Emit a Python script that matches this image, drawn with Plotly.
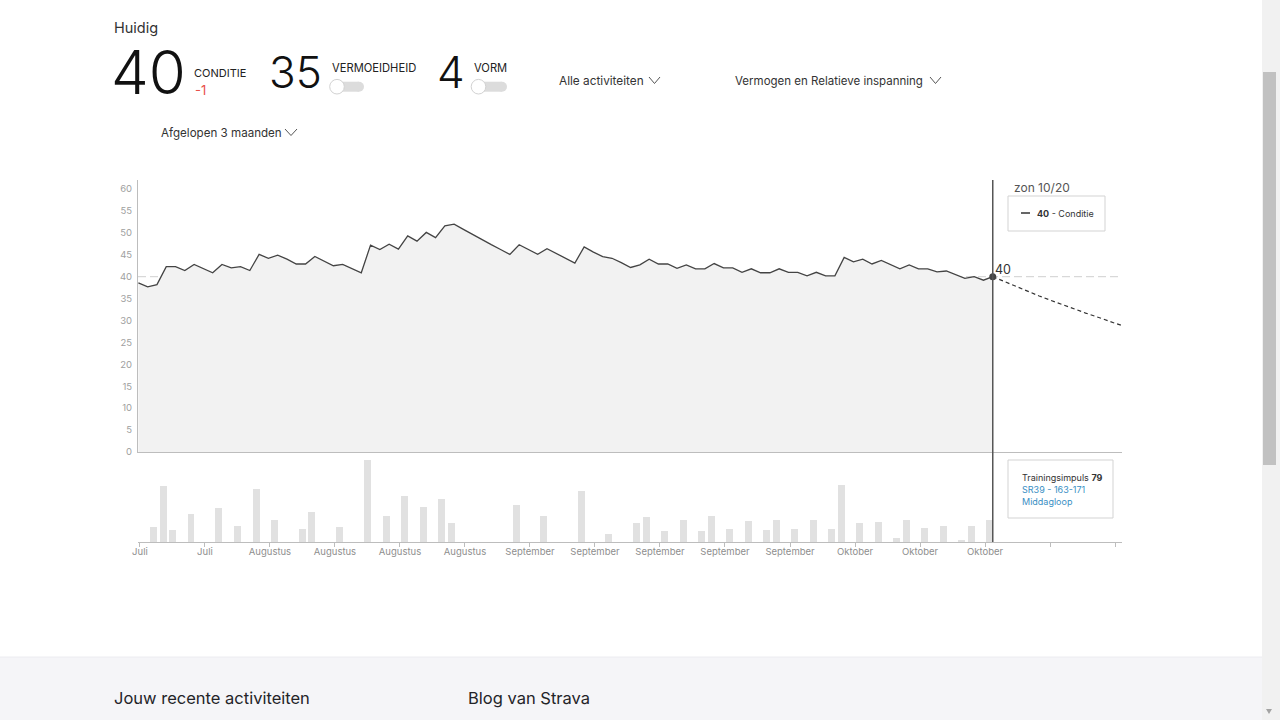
import plotly.graph_objects as go
import pandas as pd

W, H = 1280, 720

# ---------------- data ----------------
conditie = [38.6, 37.7, 38.2, 42.3, 42.3, 41.4, 42.8, 41.9, 40.9, 42.8,
            42.0, 42.3, 41.4, 45.1, 44.2, 44.9, 44.0, 42.9, 42.9, 44.6,
            43.6, 42.5, 42.8, 41.9, 40.9, 47.2, 46.2, 47.4, 46.3, 49.3,
            48.1, 50.1, 48.9, 51.6, 52.0, 50.8, 49.6, 48.5, 47.3, 46.2,
            45.1, 47.3, 46.2, 45.1, 46.4, 45.3, 44.2, 43.1, 46.8, 45.6,
            44.6, 44.2, 43.2, 42.1, 42.7, 44.0, 42.9, 42.9, 41.9, 42.7,
            41.8, 41.8, 43.0, 42.0, 42.0, 41.0, 41.8, 40.9, 40.9, 41.8,
            41.0, 41.0, 40.2, 41.0, 40.2, 40.2, 44.4, 43.4, 44.0, 42.9,
            43.7, 42.7, 41.8, 42.7, 41.8, 41.8, 41.1, 41.3, 40.5, 39.6,
            40.0, 39.2, 40.0]
conditie_dates = pd.date_range("2019-07-20 20:00", periods=len(conditie), freq="D")

projectie = [40.0, 39.1, 38.2, 37.3, 36.4, 35.6, 34.8, 34.0, 33.2, 32.4,
             31.7, 31.0, 30.2, 29.5, 28.8]
projectie_dates = pd.date_range("2019-10-20 20:00", periods=len(projectie), freq="D")

impuls_dates = ["2019-07-22", "2019-07-23", "2019-07-24", "2019-07-26", "2019-07-29",
                "2019-07-31", "2019-08-02", "2019-08-04", "2019-08-07", "2019-08-08",
                "2019-08-11", "2019-08-14", "2019-08-16", "2019-08-18", "2019-08-20",
                "2019-08-22", "2019-08-23", "2019-08-30", "2019-09-02", "2019-09-06",
                "2019-09-09", "2019-09-12", "2019-09-13", "2019-09-15", "2019-09-17",
                "2019-09-19", "2019-09-20", "2019-09-22", "2019-09-24", "2019-09-26",
                "2019-09-27", "2019-09-29", "2019-10-01", "2019-10-03", "2019-10-04",
                "2019-10-06", "2019-10-08", "2019-10-10", "2019-10-11", "2019-10-13",
                "2019-10-15", "2019-10-17", "2019-10-18", "2019-10-20"]
impuls = [55, 207, 44, 104, 124, 58, 196, 81, 47, 110,
          54, 300, 95, 168, 127, 158, 70, 136, 95, 188,
          30, 70, 91, 41, 79, 41, 94, 48, 77, 44,
          79, 48, 81, 48, 209, 70, 74, 13, 79, 51,
          57, 8, 57, 79]
impuls_x = [pd.Timestamp(d) + pd.Timedelta(hours=12) for d in impuls_dates]

tick_dates = ["2019-07-21", "2019-07-28", "2019-08-04", "2019-08-11", "2019-08-18",
              "2019-08-25", "2019-09-01", "2019-09-08", "2019-09-15", "2019-09-22",
              "2019-09-29", "2019-10-06", "2019-10-13", "2019-10-20", "2019-10-27",
              "2019-11-03"]
tick_labels = ["Juli", "Juli", "Augustus", "Augustus", "Augustus", "Augustus",
               "September", "September", "September", "September", "September",
               "Oktober", "Oktober", "Oktober", "", ""]
y_ticks = list(range(0, 65, 5))

CURRENT = 40
x_range = ["2019-07-20 19:00", "2019-11-03 18:00"]

FONT = "Inter"


def px(x):
    return x / W


def py(y):
    return 1 - y / H


fig = go.Figure()

fig.add_trace(go.Scatter(
    x=conditie_dates, y=conditie, mode="lines", fill="tozeroy",
    fillcolor="#f2f2f2", line=dict(color="#444444", width=1.3),
    xaxis="x", yaxis="y", hoverinfo="skip"))
fig.add_trace(go.Scatter(
    x=projectie_dates, y=projectie, mode="lines",
    line=dict(color="#333333", width=1.2, dash="4px,3px"),
    xaxis="x", yaxis="y", hoverinfo="skip"))
fig.add_trace(go.Scatter(
    x=[conditie_dates[-1]], y=[conditie[-1]], mode="markers",
    marker=dict(color="#444444", size=7),
    xaxis="x", yaxis="y", hoverinfo="skip"))
fig.add_trace(go.Bar(
    x=impuls_x, y=impuls, marker=dict(color="#e1e1e1", line=dict(width=0)),
    width=0.75 * 86400000, xaxis="x2", yaxis="y2", hoverinfo="skip"))

axis_col = "#bdbdbd"
fig.update_layout(
    width=W, height=H, margin=dict(l=0, r=0, t=0, b=0, autoexpand=False),
    paper_bgcolor="white", plot_bgcolor="rgba(0,0,0,0)",
    showlegend=False, hovermode=False, bargap=0,
    font=dict(family=FONT, color="#333333"),
    xaxis=dict(domain=[px(138), px(1122)], range=x_range, type="date",
               anchor="y", showticklabels=False, ticks="", showgrid=False,
               automargin=False,
               zeroline=False, showline=True, linecolor=axis_col, linewidth=1),
    yaxis=dict(domain=[py(452), py(180)], range=[0, 62.06], anchor="x",
               tickvals=y_ticks, ticks="outside", ticklen=3,
               tickcolor="rgba(0,0,0,0)", automargin=False,
               tickfont=dict(size=9.5, color="#a0a0a0", family=FONT),
               showgrid=False, zeroline=False, showline=True,
               linecolor=axis_col, linewidth=1),
    xaxis2=dict(domain=[px(138), px(1122)], range=x_range, type="date",
                anchor="y2", matches="x", tickvals=tick_dates, ticktext=tick_labels,
                ticks="outside", ticklen=4, tickcolor=axis_col, automargin=False,
                ticklabelstandoff=-3,
                tickfont=dict(size=9.5, color="#8e8e8e", family=FONT),
                showgrid=False, zeroline=False, showline=True,
                linecolor=axis_col, linewidth=1),
    yaxis2=dict(domain=[py(542), py(452)], range=[0, 330], anchor="x2",
                visible=False, showgrid=False, zeroline=False, automargin=False),
)

shapes = []
annotations = []


def text(x, y, s, size, color="#333333", weight=None, anchor="left"):
    f = dict(size=size, color=color, family=FONT)
    if weight:
        f["weight"] = weight
    annotations.append(dict(x=px(x), y=py(y), xref="paper", yref="paper",
                            text=s, showarrow=False, xanchor=anchor,
                            yanchor="middle", font=f))


def rect(x0, y0, x1, y1, fill, line="rgba(0,0,0,0)", lw=1):
    shapes.append(dict(type="rect", xref="paper", yref="paper",
                       x0=px(x0), x1=px(x1), y0=py(y1), y1=py(y0),
                       fillcolor=fill, line=dict(color=line, width=lw)))


def chevron(x0, y0, x1, y1, color="#555555"):
    xm = (x0 + x1) / 2
    path = f"M {px(x0)},{py(y0)} L {px(xm)},{py(y1)} L {px(x1)},{py(y0)}"
    shapes.append(dict(type="path", xref="paper", yref="paper", path=path,
                       line=dict(color=color, width=1)))


def circle(cx, cy, r, fill, line="rgba(0,0,0,0)", lw=0):
    shapes.append(dict(type="circle", xref="paper", yref="paper",
                       x0=px(cx - r), x1=px(cx + r), y0=py(cy + r), y1=py(cy - r),
                       fillcolor=fill, line=dict(color=line, width=lw)))


def toggle(knob_cx, pill_right, yc):
    r = 5
    left = knob_cx - 3
    rect(left + r, yc - r, pill_right - r, yc + r, "#dcdcdc")
    circle(pill_right - r, yc, r, "#dcdcdc")
    circle(left + r, yc, r, "#dcdcdc")
    circle(knob_cx, yc, 7.3, "white", "#d2d2d2", 1)


# header
text(111.5, 28, "Huidig", 14.5, "#333333")
text(109, 72, "40", 60, "#111111", weight=300)
text(192, 73, "CONDITIE", 11, "#222222")
text(193, 90, "-1", 13, "#e8514a")
text(267, 72, "35", 44, "#111111", weight=300)
text(330, 68, "VERMOEIDHEID", 11.2, "#222222")
toggle(337, 364, 86.7)
text(435, 72, "4", 44, "#111111", weight=300)
text(472, 68, "VORM", 11.2, "#222222")
toggle(478.5, 507, 86.7)
text(557, 81, "Alle activiteiten", 11.8, "#333333")
chevron(649, 77, 660, 83.5)
text(733, 81, "Vermogen en Relatieve inspanning", 11.5, "#333333")
chevron(930, 77, 941, 83.5)
text(159, 133, "Afgelopen 3 maanden", 11.6, "#333333")
chevron(285, 129, 297, 135.5)

# chart overlays
shapes.append(dict(type="line", xref="paper", yref="y", x0=px(138), x1=px(1122),
                   y0=CURRENT, y1=CURRENT, layer="below",
                   line=dict(color="#cfcfcf", width=1, dash="8px,4px")))
shapes.append(dict(type="line", xref="x", yref="paper",
                   x0=conditie_dates[-1], x1=conditie_dates[-1],
                   y0=py(542), y1=py(180), line=dict(color="#555555", width=1.5)))
annotations.append(dict(x=conditie_dates[-1], y=conditie[-1], xref="x", yref="y",
                        text=str(CURRENT), showarrow=False, xanchor="left",
                        yanchor="middle", xshift=0, yshift=7,
                        font=dict(size=12.5, color="#333333", family=FONT)))
text(1012, 188, "zon 10/20", 12, "#555555")
rect(1008, 196, 1105, 231, "white", "#d3d3d3", 1)
shapes.append(dict(type="line", xref="paper", yref="paper", x0=px(1021), x1=px(1030),
                   y0=py(213), y1=py(213), line=dict(color="#333333", width=1.5)))
text(1035, 213, "<b>40</b> - Conditie", 9, "#333333")

rect(1008, 460, 1113, 518, "white", "#d3d3d3", 1)
text(1020, 477, "Trainingsimpuls <b>79</b>", 9, "#333333")
text(1020, 489, "SR39 - 163-171", 9, "#3a8fc4")
text(1020, 501, "Middagloop", 9, "#3a8fc4")

# footer
rect(0, 657, 1262, 720, "#f5f5f8")
shapes.append(dict(type="line", xref="paper", yref="paper", x0=0, x1=px(1262),
                   y0=py(657), y1=py(657), line=dict(color="#ececf0", width=1)))
text(111.5, 698, "Jouw recente activiteiten", 16.5, "#242428")
text(466, 698, "Blog van Strava", 16.5, "#242428")

# scrollbar
rect(1262, 0, 1280, 720, "#f1f1f1")
rect(1263, 72, 1276, 465, "#c1c1c1")
shapes.append(dict(type="path", xref="paper", yref="paper",
                   path=f"M {px(1266)},{py(709)} L {px(1272)},{py(709)} L {px(1269)},{py(714)} Z",
                   fillcolor="#a3a3a3", line=dict(width=0)))

fig.update_layout(shapes=shapes, annotations=annotations)

fig.write_html(
    "out.html", config={"displayModeBar": False},
    post_script=("document.documentElement.style.margin='0';"
                 "document.documentElement.style.padding='0';"
                 "document.documentElement.style.overflow='hidden';"
                 "document.body.style.margin='0';"
                 "document.body.style.padding='0';"
                 "document.body.style.overflow='hidden';"))
